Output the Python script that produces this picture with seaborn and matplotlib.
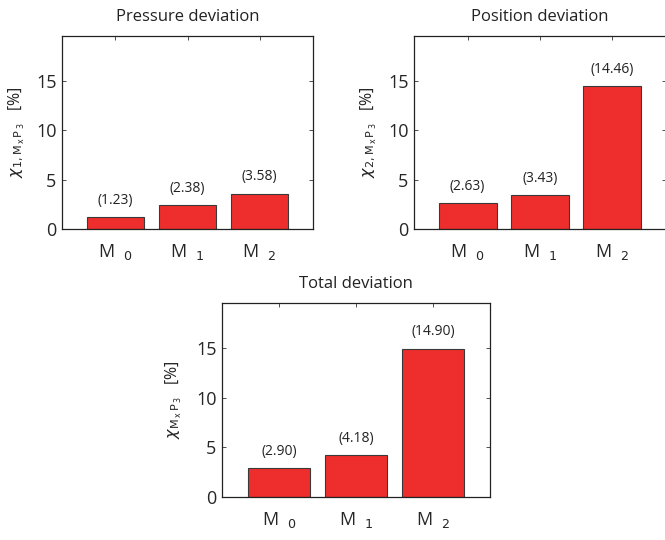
import matplotlib
matplotlib.use("Agg")
import matplotlib.pyplot as plt
import seaborn as sns
import pandas as pd

models = ["M0", "M1", "M2"]
tick_labels = [r"M  $_{0}$", r"M  $_{1}$", r"M  $_{2}$"]
pressure = [1.23, 2.38, 3.58]
position = [2.63, 3.43, 14.46]
total = [2.90, 4.18, 14.90]

titles = ["Pressure deviation", "Position deviation", "Total deviation"]
ylabels = [
    r"$\chi_{1,\mathrm{M}_{\,\mathrm{x}}\,\mathrm{P}_{\,3}}$   [%]",
    r"$\chi_{2,\mathrm{M}_{\,\mathrm{x}}\,\mathrm{P}_{\,3}}$   [%]",
    r"$\chi_{\mathrm{M}_{\,\mathrm{x}}\,\mathrm{P}_{\,3}}$   [%]",
]

sns.set_style("ticks")
plt.rcParams["font.family"] = ["Open Sans", "DejaVu Sans"]
plt.rcParams["mathtext.fontset"] = "dejavusans"

W, H = 665, 540
fig = plt.figure(figsize=(W / 100, H / 100), dpi=100)


def px_axes(left, top, right, bottom):
    return fig.add_axes([left / W, 1 - bottom / H, (right - left) / W, (bottom - top) / H])


boxes = [(62, 36, 313, 229), (414, 36, 666, 229), (222, 303, 490, 497)]
series = [pressure, position, total]

for box, vals, title, ylab in zip(boxes, series, titles, ylabels):
    ax = px_axes(*box)
    df = pd.DataFrame({"model": models, "value": vals})
    sns.barplot(data=df, x="model", y="value", color="#ee2e2c", saturation=1,
                edgecolor="#3a3a3a", linewidth=0.8, width=0.8, ax=ax)
    for i, v in enumerate(vals):
        ax.text(i, v + 1.7, f"({v:.2f})", ha="center", va="center",
                fontsize=10, color="#222222")
    ax.set_xlim(-0.74, 2.74)
    ax.set_ylim(0, 19.5)
    ax.set_yticks([0, 5, 10, 15])
    ax.set_xticks(range(3))
    ax.set_xticklabels(tick_labels)
    ax.tick_params(axis="y", direction="in", length=3, width=0.6, labelsize=13,
                   right=True, left=True, pad=4, color="#333333")
    ax.tick_params(axis="x", direction="in", length=3, width=0.6, labelsize=13,
                   top=True, bottom=True, pad=9, color="#333333")
    for s in ax.spines.values():
        s.set_visible(True)
        s.set_linewidth(0.9)
        s.set_color("#222222")
    ax.set_xlabel("")
    ax.set_ylabel(ylab, fontsize=11.5, color="#222222")
    ax.yaxis.set_label_coords(-0.14, 0.5)
    ax.set_title(title, fontsize=12, pad=11, color="#222222")

fig.savefig("out.png", dpi=100)
